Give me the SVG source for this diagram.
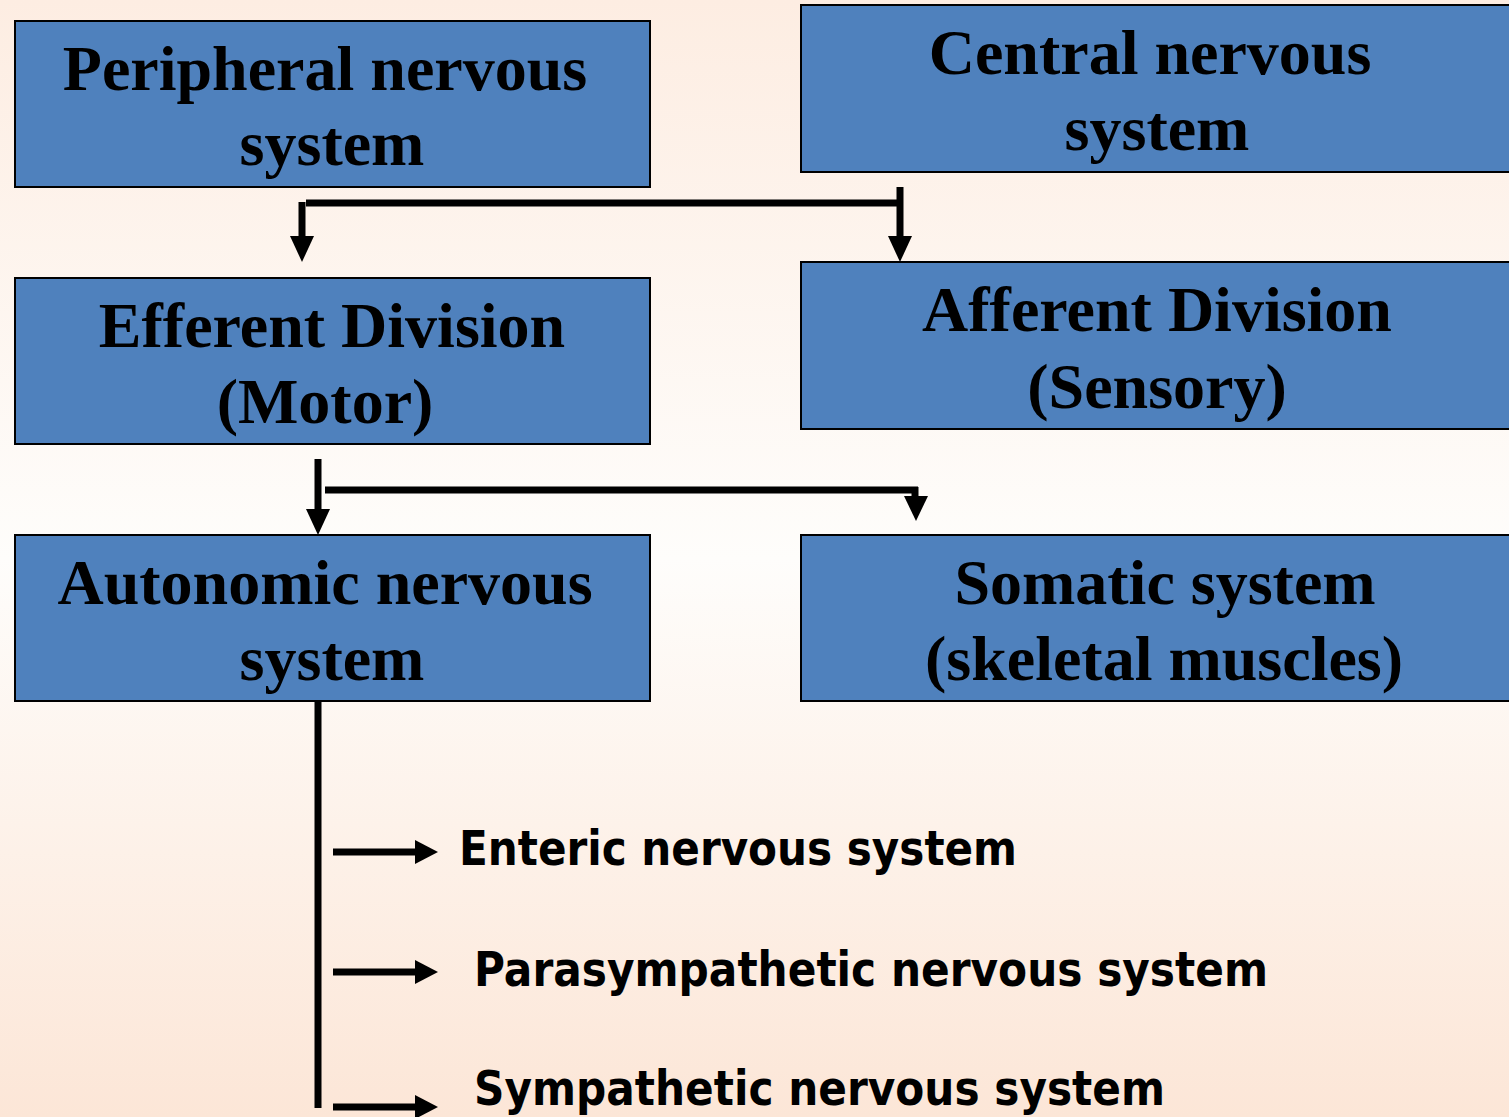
<svg xmlns="http://www.w3.org/2000/svg" width="1509" height="1117" viewBox="0 0 1509 1117">
<defs>
<linearGradient id="bg" x1="0" y1="0" x2="0" y2="1">
<stop offset="0" stop-color="#FDEDE2"/>
<stop offset="0.5" stop-color="#FEFDFB"/>
<stop offset="1" stop-color="#FCE6D7"/>
</linearGradient>
<style>
.box{fill:#4F81BD;stroke:#000;stroke-width:2}
.t{font-family:"Liberation Serif","Times New Roman",serif;font-weight:bold;font-size:64px;fill:#000;text-anchor:middle}
.s{font-family:"DejaVu Sans",Verdana,sans-serif;font-weight:bold;font-size:48px;fill:#000}
.ln{stroke:#000;stroke-width:7;fill:none}
.ln2{stroke:#000;stroke-width:7;fill:none}
.ah{fill:#000}
</style>
</defs>
<rect width="1509" height="1117" fill="url(#bg)"/>
<g id="peripheral">
<rect class="box" x="15" y="21" width="635" height="166"/>
<text class="t" x="325" y="90">Peripheral nervous</text>
<text class="t" x="332" y="165">system</text>
</g>
<g id="central">
<rect class="box" x="801" y="5" width="730" height="167"/>
<text class="t" x="1150" y="74">Central nervous</text>
<text class="t" x="1157" y="150">system</text>
</g>
<g id="efferent">
<rect class="box" x="15" y="278" width="635" height="166"/>
<text class="t" x="332" y="347">Efferent Division</text>
<text class="t" x="325" y="423">(Motor)</text>
</g>
<g id="afferent">
<rect class="box" x="801" y="262" width="730" height="167"/>
<text class="t" x="1157" y="331">Afferent Division</text>
<text class="t" x="1157" y="408">(Sensory)</text>
</g>
<g id="autonomic">
<rect class="box" x="15" y="535" width="635" height="166"/>
<text class="t" x="325" y="604">Autonomic nervous</text>
<text class="t" x="332" y="680">system</text>
</g>
<g id="somatic">
<rect class="box" x="801" y="535" width="730" height="166"/>
<text class="t" x="1165" y="604">Somatic system</text>
<text class="t" x="1164" y="680">(skeletal muscles)</text>
</g>
<g id="enteric"><text class="s" x="459" y="865" textLength="558" lengthAdjust="spacingAndGlyphs">Enteric nervous system</text></g>
<g id="parasympathetic"><text class="s" x="474" y="986" textLength="794" lengthAdjust="spacingAndGlyphs">Parasympathetic nervous system</text></g>
<g id="sympathetic"><text class="s" x="474" y="1105" textLength="691" lengthAdjust="spacingAndGlyphs">Sympathetic nervous system</text></g>
<g id="connectors">
<path class="ln" d="M302,202 V240"/>
<polygon class="ah" points="290,236 314,236 302,262"/>
<path class="ln" d="M306,203 H903"/>
<path class="ln" d="M900,187 V240"/>
<polygon class="ah" points="888,236 912,236 900,262"/>
<path class="ln" d="M318,459 V512"/>
<polygon class="ah" points="306,509 330,509 318,535"/>
<path class="ln" d="M325,490 H918"/>
<path class="ln" d="M915,487 V500"/>
<polygon class="ah" points="904,496 928,496 916,521"/>
<path class="ln" d="M318,701 V1108"/>
<path class="ln2" d="M333,852 H418"/>
<polygon class="ah" points="415,840 415,864 438,852"/>
<path class="ln2" d="M333,972 H418"/>
<polygon class="ah" points="415,960 415,984 438,972"/>
<path class="ln2" d="M333,1107 H418"/>
<polygon class="ah" points="415,1095 415,1119 438,1107"/>
</g>
</svg>
